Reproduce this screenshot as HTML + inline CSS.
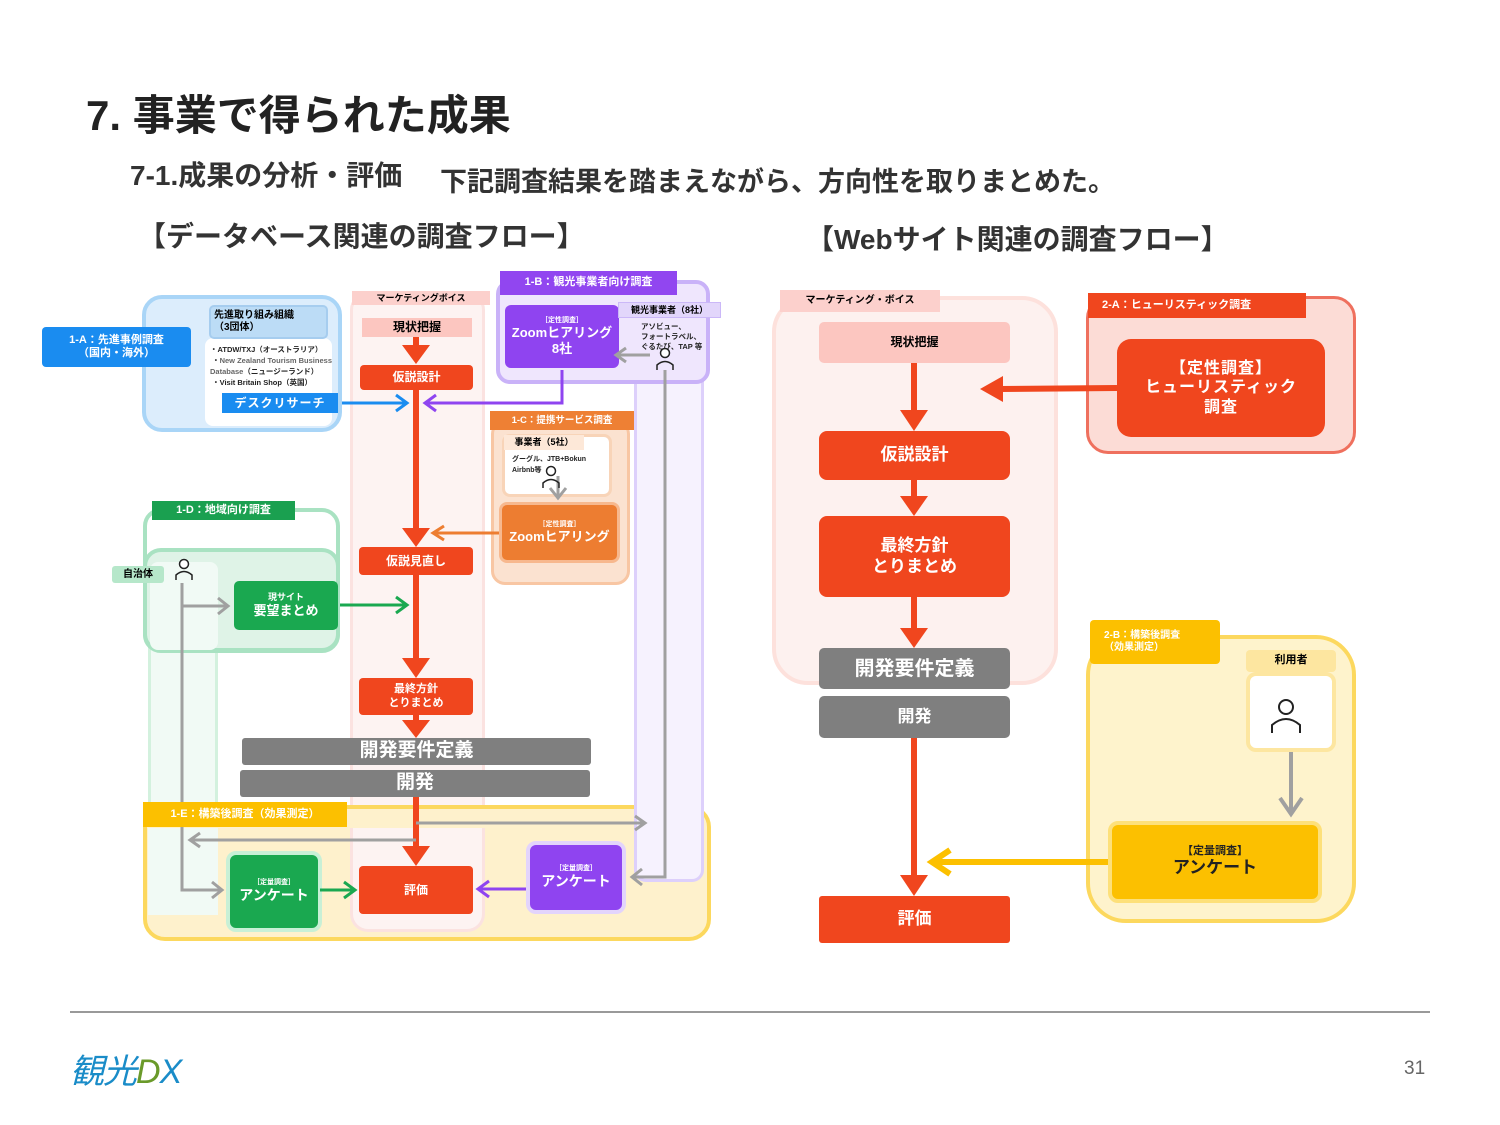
<!DOCTYPE html>
<html><head><meta charset="utf-8">
<style>
body{margin:0;width:1500px;height:1125px;background:#fff;position:relative;overflow:hidden;font-family:"Liberation Sans","Noto Sans CJK JP",sans-serif;}
.b{position:absolute;display:flex;align-items:center;justify-content:center;text-align:center;box-sizing:border-box;line-height:1.2;}
.t{position:absolute;white-space:nowrap;font-weight:bold;color:#222;}
.r{background:#f0461e;color:#fff;font-weight:bold;border-radius:4px;}
.g{background:#7f7f7f;color:#fff;font-weight:bold;border-radius:3px;}
</style></head><body>
<div class="t" style="left:86px;top:82px;font-size:42px;">7. 事業で得られた成果</div>
<div class="t" style="left:130px;top:154px;font-size:28px;font-weight:bold;color:#333">7-1.成果の分析・評価</div>
<div class="t" style="left:440px;top:160px;font-size:27px;color:#333">下記調査結果を踏まえながら、方向性を取りまとめた。</div>
<div class="t" style="left:138px;top:215px;font-size:28px;color:#333">【データベース関連の調査フロー】</div>
<div class="t" style="left:806px;top:218px;font-size:28px;color:#333">【Webサイト関連の調査フロー】</div>

<!-- LEFT columns -->
<div class="b" style="left:350px;top:292px;width:135px;height:640px;background:#fdf3f2;border:3px solid #fbe2e0;border-radius:18px;"></div>
<div class="b" style="left:352px;top:291px;width:138px;height:14px;background:#fcd0cc;font-size:9px;font-weight:bold;">マーケティングボイス</div>
<div class="b" style="left:148px;top:560px;width:70px;height:356px;background:#f1faf5;border:3px solid #d3f1de;border-radius:12px;"></div>

<!-- 1-E -->
<div class="b" style="left:143px;top:805px;width:568px;height:136px;background:#fef1cc;border:4px solid #fcd85e;border-radius:22px;"></div>
<div class="b" style="left:148px;top:828px;width:70px;height:87px;background:#f1faf5;"></div>
<div class="b" style="left:634px;top:300px;width:70px;height:582px;background:#f6f2fe;border:3px solid #ddd0fb;border-radius:12px;"></div>
<div class="b" style="left:350px;top:828px;width:135px;height:104px;background:#fdf3f2;border:3px solid #fbe2e0;border-top:none;border-radius:0 0 18px 18px;"></div>

<!-- 1-A -->
<div class="b" style="left:142px;top:295px;width:200px;height:137px;background:#dcedfc;border:4px solid #a9d5f7;border-radius:20px;"></div>
<div class="b" style="left:205px;top:338px;width:127px;height:88px;background:#fff;border-radius:8px;"></div>
<div class="b" style="left:209px;top:305px;width:119px;height:34px;background:#bcdcf6;border:2px solid #a6cdef;border-radius:5px;font-size:10px;font-weight:bold;justify-content:flex-start;text-align:left;padding-left:3px;">先進取り組み組織<br>（3団体）</div>
<div class="t" style="left:210px;top:345px;font-size:7.5px;line-height:1.45;font-weight:bold;">・ATDW/TXJ（オーストラリア）<br>&nbsp;・<span style="color:#666">New Zealand Tourism Business</span><br><span style="color:#666">Database</span>（ニュージーランド）<br>&nbsp;・Visit Britain Shop（英国）</div>
<div class="b" style="left:222px;top:393px;width:116px;height:20px;background:#1a8cf0;color:#fff;font-size:12px;font-weight:bold;letter-spacing:1px;">デスクリサーチ</div>
<div class="b" style="left:42px;top:327px;width:149px;height:40px;background:#1a8cf0;color:#fff;font-size:11px;font-weight:bold;border-radius:4px;">1-A：先進事例調査<br>（国内・海外）</div>

<!-- 1-B -->
<div class="b" style="left:496px;top:280px;width:214px;height:104px;background:#efe6fd;border:4px solid #c9b2f8;border-radius:14px;"></div>
<div class="b" style="left:500px;top:271px;width:177px;height:24px;background:#9146f0;color:#fff;font-size:11px;font-weight:bold;">1-B：観光事業者向け調査</div>
<div class="b" style="left:505px;top:305px;width:114px;height:63px;background:#8f44f0;color:#fff;font-size:13px;font-weight:bold;border-radius:6px;flex-direction:column;"><span style="font-size:7px;">［定性調査］</span>Zoomヒアリング<br>8社</div>
<div class="b" style="left:618px;top:302px;width:103px;height:16px;background:#e2d6fb;border:1px solid #cbb8f8;font-size:9px;font-weight:bold;">観光事業者（8社）</div>
<div class="t" style="left:641px;top:322px;font-size:7.5px;line-height:1.35;">アソビュー、<br>フォートラベル、<br>ぐるたび、TAP 等</div>

<!-- 1-C -->
<div class="b" style="left:491px;top:420px;width:139px;height:165px;background:#fbe2d0;border:3px solid #f8c6a3;border-radius:14px;"></div>
<div class="b" style="left:490px;top:411px;width:144px;height:19px;background:#ee8034;color:#fff;font-size:9.5px;font-weight:bold;">1-C：提携サービス調査</div>
<div class="b" style="left:502px;top:434px;width:110px;height:63px;background:#fff;border:3px solid #f8d4b8;border-radius:8px;"></div>
<div class="b" style="left:504px;top:435px;width:80px;height:15px;background:#fde8d8;font-size:9px;font-weight:bold;">事業者（5社）</div>
<div class="t" style="left:512px;top:455px;font-size:7px;line-height:1.5;">グーグル、JTB+Bokun<br>Airbnb等</div>
<div class="b" style="left:499px;top:502px;width:121px;height:61px;background:#ed7d31;color:#fff;font-size:13px;font-weight:bold;border:3px solid #f7b88e;border-radius:8px;flex-direction:column;"><span style="font-size:7px;">［定性調査］</span>Zoomヒアリング</div>

<!-- 1-D -->
<div class="b" style="left:143px;top:508px;width:197px;height:145px;background:#fff;border:4px solid #a9e2c2;border-radius:18px;"></div>
<div class="b" style="left:143px;top:548px;width:197px;height:104px;background:#dff3e7;border:4px solid #a9e2c2;border-radius:18px;"></div>
<div class="b" style="left:150px;top:562px;width:68px;height:88px;background:#f1faf5;border-radius:8px;"></div>
<div class="b" style="left:152px;top:501px;width:143px;height:19px;background:#1aa050;color:#fff;font-size:11px;font-weight:bold;">1-D：地域向け調査</div>
<div class="b" style="left:112px;top:566px;width:52px;height:17px;background:#b6e7ca;font-size:10px;font-weight:bold;border-radius:3px;">自治体</div>
<div class="b" style="left:234px;top:581px;width:104px;height:49px;background:#1aa850;color:#fff;font-size:13px;font-weight:bold;border-radius:5px;flex-direction:column;"><span style="font-size:9px;">現サイト</span>要望まとめ</div>

<!-- main flow -->
<div class="b" style="left:362px;top:318px;width:110px;height:19px;background:#fcc6c0;font-size:12px;font-weight:bold;">現状把握</div>
<div class="b r" style="left:360px;top:365px;width:113px;height:25px;font-size:12px;">仮説設計</div>
<div class="b r" style="left:359px;top:547px;width:114px;height:28px;font-size:12px;">仮説見直し</div>
<div class="b r" style="left:359px;top:678px;width:114px;height:37px;font-size:11px;">最終方針<br>とりまとめ</div>

<div class="b" style="left:226px;top:851px;width:96px;height:81px;background:#1aa850;color:#fff;font-size:14px;font-weight:bold;border:4px solid #c8f0d6;border-radius:10px;flex-direction:column;"><span style="font-size:7px;">［定量調査］</span>アンケート</div>
<div class="b" style="left:526px;top:841px;width:100px;height:73px;background:#8f44f0;color:#fff;font-size:14px;font-weight:bold;border:4px solid #e3d4fc;border-radius:10px;flex-direction:column;"><span style="font-size:7px;">［定量調査］</span>アンケート</div>
<div class="b r" style="left:359px;top:866px;width:114px;height:48px;font-size:12px;">評価</div>

<div class="b g" style="left:242px;top:738px;width:349px;height:27px;font-size:19px;">開発要件定義</div>
<div class="b g" style="left:240px;top:770px;width:350px;height:27px;font-size:19px;">開発</div>

<!-- RIGHT -->
<div class="b" style="left:772px;top:296px;width:286px;height:389px;background:#fdf1ef;border:4px solid #fde1dc;border-radius:36px;"></div>
<div class="b" style="left:780px;top:290px;width:160px;height:22px;background:#fcd0cc;font-size:10px;font-weight:bold;">マーケティング・ボイス</div>
<div class="b" style="left:819px;top:322px;width:191px;height:41px;background:#fcc6c0;font-size:12px;font-weight:bold;border-radius:5px;">現状把握</div>
<div class="b r" style="left:819px;top:431px;width:191px;height:49px;font-size:17px;border-radius:8px;">仮説設計</div>
<div class="b r" style="left:819px;top:516px;width:191px;height:81px;font-size:17px;border-radius:8px;">最終方針<br>とりまとめ</div>
<div class="b g" style="left:819px;top:648px;width:191px;height:41px;font-size:20px;border-radius:5px;">開発要件定義</div>
<div class="b g" style="left:819px;top:696px;width:191px;height:42px;font-size:17px;border-radius:5px;">開発</div>
<div class="b r" style="left:819px;top:896px;width:191px;height:47px;font-size:17px;border-radius:3px;">評価</div>

<div class="b" style="left:1086px;top:296px;width:270px;height:158px;background:#fcdcd6;border:3px solid #ef705e;border-radius:22px;"></div>
<div class="b" style="left:1088px;top:293px;width:218px;height:25px;background:#f0461e;color:#fff;font-size:11px;font-weight:bold;justify-content:flex-start;padding-left:14px;">2-A：ヒューリスティック調査</div>
<div class="b r" style="left:1117px;top:339px;width:208px;height:98px;font-size:16px;border-radius:14px;letter-spacing:1px;">【定性調査】<br>ヒューリスティック<br>調査</div>

<div class="b" style="left:1086px;top:635px;width:270px;height:288px;background:#fef3cc;border:4px solid #fcd85e;border-radius:40px;"></div>
<div class="b" style="left:1090px;top:620px;width:130px;height:44px;background:#fcc000;color:#fff;font-size:10px;font-weight:bold;border-radius:4px;justify-content:flex-start;text-align:left;padding-left:14px;">2-B：構築後調査<br>（効果測定）</div>
<div class="b" style="left:1246px;top:672px;width:90px;height:80px;background:#fff;border:4px solid #fde6a0;border-radius:10px;"></div>
<div class="b" style="left:1246px;top:650px;width:90px;height:22px;background:#fde6a0;font-size:11px;font-weight:bold;border-radius:4px;">利用者</div>
<div class="b" style="left:1108px;top:821px;width:214px;height:82px;background:#fcc000;color:#222;font-size:17px;font-weight:bold;border:4px solid #fde07a;border-radius:10px;flex-direction:column;"><span style="font-size:11px;">【定量調査】</span>アンケート</div>

<!-- arrows -->
<svg style="position:absolute;left:0;top:0" width="1500" height="1125" fill="none">
<g stroke="#f0461e" stroke-width="6">
<line x1="416" y1="337" x2="416" y2="348"/>
<line x1="416" y1="390" x2="416" y2="530"/>
<line x1="416" y1="575" x2="416" y2="660"/>
<line x1="416" y1="715" x2="416" y2="722"/>
<line x1="416" y1="797" x2="416" y2="848"/>
<line x1="914" y1="363" x2="914" y2="412"/>
<line x1="914" y1="480" x2="914" y2="498"/>
<line x1="914" y1="597" x2="914" y2="630"/>
<line x1="914" y1="738" x2="914" y2="877"/>
<line x1="1117" y1="388" x2="1000" y2="389"/>
</g>
<g fill="#f0461e">
<polygon points="402,345 430,345 416,364"/>
<polygon points="402,528 430,528 416,547"/>
<polygon points="402,658 430,658 416,678"/>
<polygon points="402,720 430,720 416,738"/>
<polygon points="402,846 430,846 416,866"/>
<polygon points="900,410 928,410 914,431"/>
<polygon points="900,496 928,496 914,516"/>
<polygon points="900,628 928,628 914,648"/>
<polygon points="900,875 928,875 914,896"/>
<polygon points="1003,376 1003,402 980,389"/>
</g>
<g stroke-width="3" fill="none">
<path d="M342 403 H407 M396 395 L407 403 L396 411" stroke="#1a8cf0"/>
<path d="M562 370 V403 H425 M436 395 L425 403 L436 411" stroke="#8f44f0"/>
<path d="M499 533 H433 M444 526 L433 533 L444 540" stroke="#ed7d31"/>
<path d="M340 605 H407 M396 597 L407 605 L396 613" stroke="#1aa850"/>
<path d="M320 890 H355 M344 882 L355 890 L344 898" stroke="#1aa850"/>
<path d="M526 889 H478 M489 881 L478 889 L489 897" stroke="#8f44f0"/>
</g>
<g stroke="#a0a0a0" stroke-width="3" fill="none">
<path d="M650 355 H616 M626 348 L616 355 L626 362"/>
<path d="M558 476 V496 M550 488 L558 498 L566 488"/>
<path d="M665 370 V877 H632 M642 869 L632 877 L642 885"/>
<path d="M182 583 V890 H222 M212 882 L222 890 L212 898"/>
<path d="M182 606 H228 M218 598 L228 606 L218 614"/>
<path d="M416 823 H645 M635 816 L645 823 L635 830"/>
<path d="M416 840 H190 M200 833 L190 840 L200 847"/>
<path d="M1291 752 V812 M1280 798 L1291 814 L1302 798" stroke-width="4"/>
</g>
<g stroke="#fcc000" stroke-width="6" fill="none">
<path d="M1108 862 H935 M950 850 L932 862 L950 874"/>
</g>
<g stroke="#222" stroke-width="1.5" fill="#fff">
<circle cx="665" cy="353" r="4.5"/><path d="M657 370 V365 Q665 358 673 365 V370" fill="none"/>
<circle cx="551" cy="471" r="4.5"/><path d="M543 488 V483 Q551 476 559 483 V488" fill="none"/>
<circle cx="184" cy="564" r="4.5"/><path d="M176 580 V575 Q184 568 192 575 V580" fill="none"/>
<circle cx="1286" cy="707" r="7" stroke-width="2"/><path d="M1272 733 V725 Q1286 713 1300 725 V733" fill="none" stroke-width="2"/>
</g>
<line x1="70" y1="1012" x2="1430" y2="1012" stroke="#999" stroke-width="2"/>
</svg>

<div class="b" style="left:143px;top:802px;width:204px;height:25px;background:#fcc000;color:#fff;font-size:11px;font-weight:bold;">1-E：構築後調査（効果測定）</div>

<div class="t" style="left:70px;top:1044px;font-size:34px;font-weight:normal;color:#1a8cc8;font-style:italic;letter-spacing:-1px;">観光<span style="color:#6a9a2a">D</span>X</div>
<div class="t" style="left:1404px;top:1058px;font-size:19px;font-weight:normal;color:#666;">31</div>
</body></html>
